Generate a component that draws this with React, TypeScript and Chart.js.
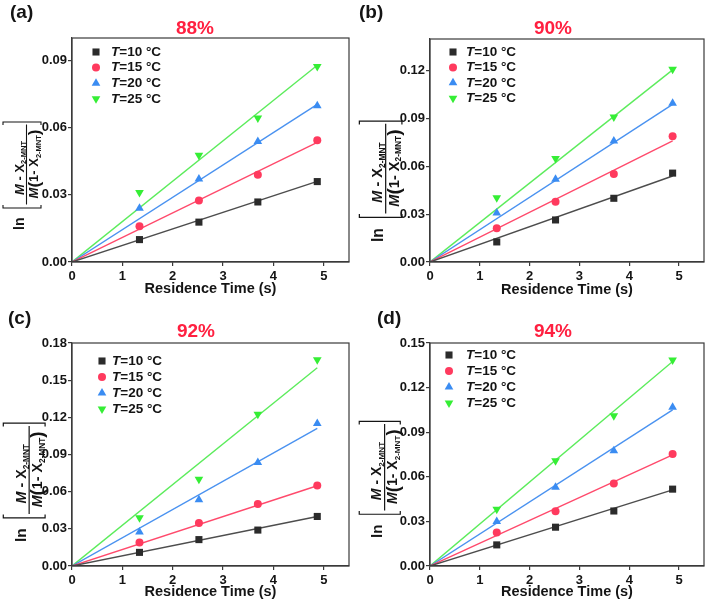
import React, { useEffect, useRef } from 'react';
import { Chart, registerables } from 'chart.js';

Chart.register(...registerables);

// ---------- data ----------
const residenceTime = [1.34, 2.52, 3.69, 4.87];
const fitRange = [0, 4.87];
const temperatures = ['10', '15', '20', '25'];
const panelLetters = ['(a)', '(b)', '(c)', '(d)'];
const purities = ['88%', '90%', '92%', '94%'];
const xTickValues = [0, 1, 2, 3, 4, 5];
const yTicksA = [0, 0.03, 0.06, 0.09];
const yTicksB = [0, 0.03, 0.06, 0.09, 0.12];
const yTicksC = [0, 0.03, 0.06, 0.09, 0.12, 0.15, 0.18];
const yTicksD = [0, 0.03, 0.06, 0.09, 0.12, 0.15];
const yMaxes = [0.1, 0.14, 0.18, 0.15];
const xMax = 5.5;

// (a) 88%
const a10 = [0.01, 0.0178, 0.0268, 0.0359];
const a15 = [0.016, 0.0274, 0.039, 0.0544];
const a20 = [0.024, 0.037, 0.0538, 0.0698];
const a25 = [0.031, 0.0477, 0.0643, 0.0873];
const aFitEnd = [0.036, 0.0534, 0.0704, 0.0878];
// (b) 90%
const b10 = [0.0126, 0.0264, 0.04, 0.0558];
const b15 = [0.0212, 0.0378, 0.0552, 0.079];
const b20 = [0.0308, 0.052, 0.076, 0.0997];
const b25 = [0.0403, 0.065, 0.091, 0.121];
const bFitEnd = [0.054, 0.076, 0.099, 0.1206];
// (c) 92%
const c10 = [0.011, 0.0213, 0.029, 0.04];
const c15 = [0.0189, 0.0348, 0.05, 0.065];
const c20 = [0.0275, 0.0534, 0.0836, 0.115];
const c25 = [0.0389, 0.07, 0.1225, 0.1665];
const cFitEnd = [0.04, 0.0648, 0.111, 0.16];
// (d) 94%
const d10 = [0.0142, 0.0261, 0.037, 0.0517];
const d15 = [0.0225, 0.0369, 0.0555, 0.0753];
const d20 = [0.03, 0.0529, 0.0776, 0.1068];
const d25 = [0.0382, 0.0708, 0.101, 0.1385];
const dFitEnd = [0.0512, 0.0747, 0.105, 0.1376];

const panelSeries = [
  [a10, a15, a20, a25],
  [b10, b15, b20, b25],
  [c10, c15, c20, c25],
  [d10, d15, d20, d25],
];
const panelFitEnds = [aFitEnd, bFitEnd, cFitEnd, dFitEnd];
const panelYTicks = [yTicksA, yTicksB, yTicksC, yTicksD];

// ---------- styles / layout ----------
const FAMILY = '"Liberation Sans", Arial, Helvetica, sans-serif';
const TEXT = '#141414';
const FRAME = '#3a3a3a';
const TITLE_RED = '#ff2040';

const seriesStyles = [
  { marker: '#2b2b2b', line: '#4d4d4d', style: 'rect', rot: 0, r: 5 },
  { marker: '#ff3a5e', line: '#ff4a6c', style: 'circle', rot: 0, r: 4 },
  { marker: '#3a8cf2', line: '#4a92f0', style: 'triangle', rot: 0, r: 5 },
  { marker: '#35ee35', line: '#5cec5c', style: 'triangle', rot: 180, r: 5 },
];

type Layout = {
  left: number; top: number; w: number; h: number;
  ca: { l: number; r: number; t: number; b: number };
  letter: { x: number; y: number };
  title: { x: number; y: number };
  legend: { mx: number; tx: number; y: number; dy: number };
  ylab: { x: number; y: number; s: number };
  xTitleY: number;
};

const panels: Layout[] = [
  { left: 0, top: 0, w: 354, h: 300, ca: { l: 72, r: 349, t: 38, b: 262 }, letter: { x: 10, y: 13 }, title: { x: 195, y: 29 }, legend: { mx: 96, tx: 111, y: 52, dy: 15.6 }, ylab: { x: 0, y: 230, s: 1 }, xTitleY: 289 },
  { left: 354, top: 0, w: 355, h: 300, ca: { l: 76, r: 352, t: 39, b: 262 }, letter: { x: 5, y: 13 }, title: { x: 199, y: 29 }, legend: { mx: 99, tx: 112, y: 52, dy: 15.4 }, ylab: { x: 2, y: 242, s: 1.12 }, xTitleY: 290 },
  { left: 0, top: 300, w: 354, h: 308, ca: { l: 72, r: 349, t: 43, b: 266 }, letter: { x: 8, y: 19 }, title: { x: 196, y: 32 }, legend: { mx: 102, tx: 112, y: 61, dy: 16 }, ylab: { x: 0, y: 242, s: 1.1 }, xTitleY: 292 },
  { left: 354, top: 300, w: 355, h: 308, ca: { l: 76, r: 352, t: 43, b: 266 }, letter: { x: 23, y: 19 }, title: { x: 199, y: 32 }, legend: { mx: 95, tx: 112, y: 55, dy: 16 }, ylab: { x: 2, y: 238, s: 1.08 }, xTitleY: 292 },
];

// ---------- drawing helpers ----------
function drawMarker(ctx: CanvasRenderingContext2D, style: string, x: number, y: number, r: number, rotDeg: number) {
  ctx.beginPath();
  if (style === 'rect') {
    const s = Math.SQRT1_2 * r;
    ctx.rect(x - s, y - s, 2 * s, 2 * s);
  } else if (style === 'circle') {
    ctx.arc(x, y, r, 0, Math.PI * 2);
  } else {
    let rad = (rotDeg * Math.PI) / 180;
    ctx.moveTo(x + Math.sin(rad) * r, y - Math.cos(rad) * r);
    rad += (2 * Math.PI) / 3;
    ctx.lineTo(x + Math.sin(rad) * r, y - Math.cos(rad) * r);
    rad += (2 * Math.PI) / 3;
    ctx.lineTo(x + Math.sin(rad) * r, y - Math.cos(rad) * r);
    ctx.closePath();
  }
  ctx.fill();
}

type Part = { t: string; f: string; dv?: number };
function richWidth(ctx: CanvasRenderingContext2D, parts: Part[]) {
  let w = 0;
  for (const p of parts) { ctx.font = p.f; w += ctx.measureText(p.t).width; }
  return w;
}
function drawRich(ctx: CanvasRenderingContext2D, parts: Part[], u0: number, v: number) {
  let u = u0;
  for (const p of parts) {
    ctx.font = p.f;
    ctx.fillText(p.t, u, v + (p.dv || 0));
    u += ctx.measureText(p.t).width;
  }
}

function drawYLabel(ctx: CanvasRenderingContext2D, ox: number, oy: number, s: number) {
  ctx.save();
  ctx.translate(ox, oy);
  ctx.rotate(-Math.PI / 2);
  ctx.scale(s, s);
  ctx.fillStyle = TEXT;
  ctx.strokeStyle = TEXT;
  ctx.textAlign = 'left';
  ctx.textBaseline = 'alphabetic';
  ctx.font = `bold 14px ${FAMILY}`;
  ctx.fillText('ln', 0, 24);
  ctx.lineWidth = 1.1;
  ctx.beginPath();
  ctx.moveTo(25, 3); ctx.lineTo(22, 3); ctx.lineTo(22, 41); ctx.lineTo(25, 41);
  ctx.moveTo(105, 3); ctx.lineTo(108, 3); ctx.lineTo(108, 41); ctx.lineTo(105, 41);
  ctx.stroke();
  ctx.beginPath();
  ctx.moveTo(25.5, 26.5); ctx.lineTo(105.5, 26.5);
  ctx.stroke();
  const num: Part[] = [
    { t: 'M', f: `italic bold 13px ${FAMILY}` },
    { t: ' - ', f: `bold 13px ${FAMILY}` },
    { t: 'X', f: `bold 13px ${FAMILY}` },
    { t: '2-MNT', f: `bold 7.5px ${FAMILY}`, dv: 2.5 },
  ];
  const den: Part[] = [
    { t: 'M', f: `italic bold 13px ${FAMILY}` },
    { t: '(', f: `bold 17px ${FAMILY}`, dv: 1.5 },
    { t: '1- ', f: `bold 13px ${FAMILY}` },
    { t: 'X', f: `bold 13px ${FAMILY}` },
    { t: '2-MNT', f: `bold 7.5px ${FAMILY}`, dv: 2.5 },
    { t: ')', f: `bold 17px ${FAMILY}`, dv: 1.5 },
  ];
  const wN = richWidth(ctx, num);
  drawRich(ctx, num, 62 - wN / 2, 23.5);
  const wD = richWidth(ctx, den);
  drawRich(ctx, den, 66 - wD / 2, 38);
  ctx.restore();
}

function makeDecor(idx: number) {
  const p = panels[idx];
  return {
    id: 'decor' + idx,
    afterDraw(chart: any) {
      const ctx: CanvasRenderingContext2D = chart.ctx;
      const ca = chart.chartArea;
      ctx.save();
      ctx.strokeStyle = FRAME;
      ctx.lineWidth = 1.2;
      ctx.strokeRect(ca.left, ca.top, ca.right - ca.left, ca.bottom - ca.top);

      ctx.fillStyle = TEXT;
      ctx.font = `bold 19px ${FAMILY}`;
      ctx.textBaseline = 'middle';
      ctx.textAlign = 'left';
      ctx.fillText(panelLetters[idx], p.letter.x, p.letter.y);

      ctx.fillStyle = TITLE_RED;
      ctx.textAlign = 'center';
      ctx.fillText(purities[idx], p.title.x, p.title.y);

      // legend
      ctx.textAlign = 'left';
      temperatures.forEach((t, i) => {
        const st = seriesStyles[i];
        const y = p.legend.y + i * p.legend.dy;
        ctx.fillStyle = st.marker;
        drawMarker(ctx, st.style, p.legend.mx, y, st.r, st.rot);
        ctx.fillStyle = TEXT;
        ctx.font = `italic bold 13.5px ${FAMILY}`;
        ctx.fillText('T', p.legend.tx, y);
        const wT = ctx.measureText('T').width;
        ctx.font = `bold 13.5px ${FAMILY}`;
        ctx.fillText(`=${t} °C`, p.legend.tx + wT, y);
      });

      drawYLabel(ctx, p.ylab.x, p.ylab.y, p.ylab.s);
      ctx.restore();
    },
  };
}

function buildConfig(idx: number): any {
  const p = panels[idx];
  const pointSets = panelSeries[idx].map((vals, i) => {
    const st = seriesStyles[i];
    return {
      type: 'scatter',
      data: residenceTime.map((x, k) => ({ x, y: vals[k] })),
      showLine: false,
      pointStyle: st.style,
      pointRotation: st.rot,
      pointRadius: st.r,
      pointBackgroundColor: st.marker,
      pointBorderColor: st.marker,
      pointBorderWidth: 0,
    };
  });
  const fitSets = panelFitEnds[idx].map((end, i) => {
    const st = seriesStyles[i];
    return {
      type: 'line',
      data: [
        { x: fitRange[0], y: 0 },
        { x: fitRange[1], y: end },
      ],
      borderColor: st.line,
      borderWidth: 1.4,
      pointRadius: 0,
      fill: false,
    };
  });
  const tickFont = { family: FAMILY, weight: 'bold', size: 13 };
  const titleLH = 14.5 * 1.2;
  return {
    type: 'scatter',
    data: { datasets: [...pointSets, ...fitSets] },
    options: {
      responsive: false,
      animation: false,
      events: [],
      layout: { padding: { left: 0, top: p.ca.t, right: p.w - p.ca.r, bottom: 0 } },
      plugins: { legend: { display: false }, tooltip: { enabled: false }, title: { display: false } },
      scales: {
        x: {
          type: 'linear',
          min: 0,
          max: xMax,
          afterBuildTicks: (s: any) => { s.ticks = xTickValues.map((v) => ({ value: v })); },
          afterFit: (s: any) => { s.height = p.h - p.ca.b; },
          grid: { drawOnChartArea: false, tickLength: 4, color: FRAME, lineWidth: 1.2 },
          border: { color: FRAME, width: 1.2 },
          ticks: { font: tickFont, color: TEXT, padding: 3, maxRotation: 0, callback: (v: any) => String(v) },
          title: {
            display: true,
            text: 'Residence Time (s)',
            color: TEXT,
            font: { family: FAMILY, weight: 'bold', size: 14.5 },
            padding: { top: 0, bottom: p.h - p.xTitleY - titleLH / 2 },
          },
        },
        y: {
          type: 'linear',
          min: 0,
          max: yMaxes[idx],
          afterBuildTicks: (s: any) => { s.ticks = panelYTicks[idx].map((v) => ({ value: v })); },
          afterFit: (s: any) => { s.width = p.ca.l; },
          grid: { drawOnChartArea: false, tickLength: 4, color: FRAME, lineWidth: 1.2 },
          border: { color: FRAME, width: 1.2 },
          ticks: { font: tickFont, color: TEXT, padding: 1, callback: (v: any) => Number(v).toFixed(2) },
        },
      },
    },
    plugins: [makeDecor(idx)],
  };
}

function Panel({ idx }: { idx: number }) {
  const ref = useRef<HTMLCanvasElement>(null);
  useEffect(() => {
    const chart = new Chart(ref.current as HTMLCanvasElement, buildConfig(idx));
    return () => chart.destroy();
  }, [idx]);
  const p = panels[idx];
  return (
    <canvas
      ref={ref}
      width={p.w}
      height={p.h}
      style={{ position: 'absolute', left: p.left, top: p.top, width: p.w, height: p.h, display: 'block' }}
    />
  );
}

export default function App() {
  return (
    <div style={{ position: 'absolute', left: 0, top: 0, width: 709, height: 608, background: '#fff', overflow: 'hidden' }}>
      {panels.map((_, i) => (
        <Panel key={i} idx={i} />
      ))}
    </div>
  );
}
